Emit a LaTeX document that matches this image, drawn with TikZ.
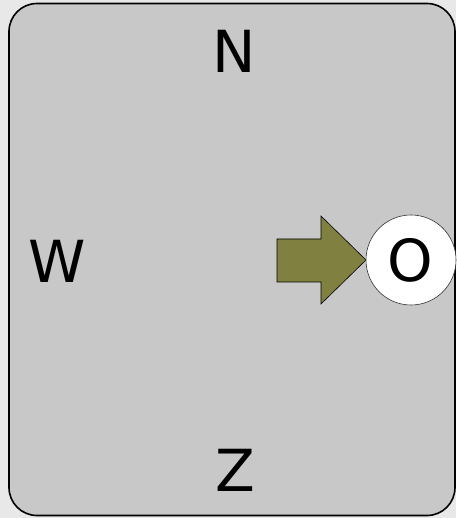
\documentclass[tikz,border=0pt]{standalone}
\usepackage{fontspec}
\setmainfont{DejaVu Sans}
\definecolor{outerbg}{RGB}{232,232,232}
\definecolor{panelgray}{RGB}{200,200,200}
\definecolor{olive}{RGB}{128,128,64}
\begin{document}
\begin{tikzpicture}[x=1pt,y=1pt,
  lbl/.style={font=\fontsize{58}{60}\selectfont, inner sep=0pt, anchor=base}]
\useasboundingbox (0,0) rectangle (456,518);
\fill[outerbg] (0,0) rectangle (456,518);
\draw[fill=panelgray, line width=1.6pt, rounded corners=28pt] (9,2.5) rectangle (455,514.5);
\draw[fill=olive, line width=0.6pt] (277,279) -- (321,279) -- (321,302) -- (366,258) -- (321,214) -- (321,236) -- (277,236) -- cycle;
\node[circle, fill=white, draw=black!80, line width=0.6pt, minimum size=90pt, inner sep=0pt] (circ) at (411,258) {};
\node[lbl] (n) at (234,445) {N};
\node[lbl] (w) at (57,235) {W};
\node[lbl] (z) at (235,26) {Z};
\node[lbl] (o) at (410,236) {O};
\end{tikzpicture}
\end{document}
